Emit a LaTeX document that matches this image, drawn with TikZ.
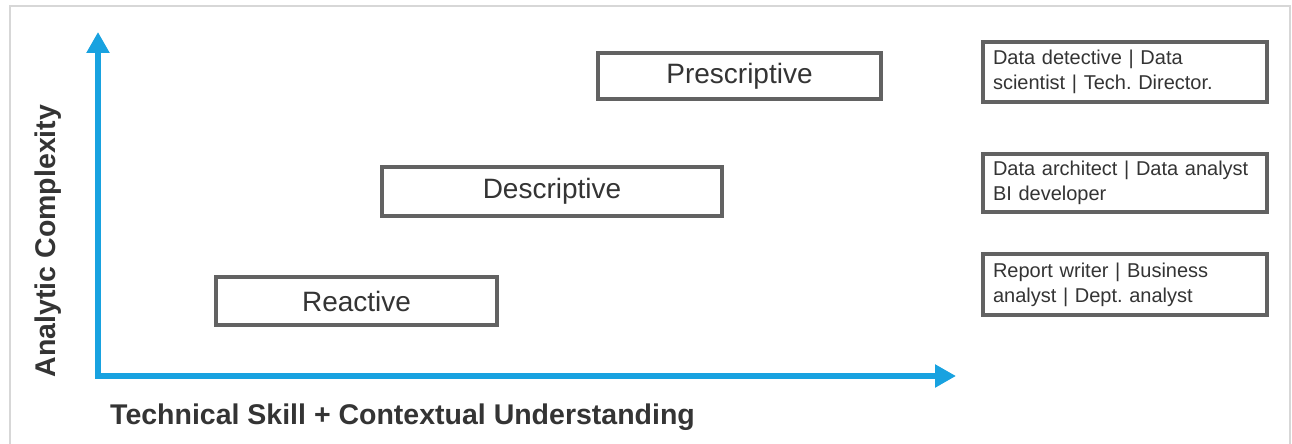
\documentclass[tikz,border=0pt]{standalone}
\usepackage{fontspec}
\setmainfont{Liberation Sans}
\usetikzlibrary{arrows.meta}
\frenchspacing
\definecolor{axisblue}{RGB}{24,162,224}
\definecolor{boxgray}{RGB}{98,98,98}
\definecolor{txtgray}{RGB}{52,52,52}
\definecolor{framegray}{RGB}{215,215,215}
\tikzset{
  levelbox/.style={draw=boxgray, line width=4pt, fill=white, minimum height=47pt,
    inner sep=0pt, text=txtgray, font=\fontsize{28}{32}\selectfont},
  rolebox/.style={draw=boxgray, line width=4pt, fill=white, minimum width=284pt,
    text width=264pt, inner xsep=10pt, inner ysep=0pt, align=left, text=txtgray,
    font=\fontsize{20}{25}\selectfont\frenchspacing},
  axislabel/.style={text=txtgray, inner sep=0pt, font=\fontsize{28.5}{32}\selectfont\bfseries},
  axisline/.style={draw=axisblue, line width=6pt, line join=miter,
    {Triangle[length=21pt,width=22pt]}-{Triangle[length=21pt,width=22pt]}}
}
\begin{document}
\begin{tikzpicture}[x=1pt,y=-1pt]
\useasboundingbox (0,0) rectangle (1292,444);
% outer frame
\draw[framegray, line width=1.5pt] (10,444) -- (10,6) -- (1290,6) -- (1290,444);
% axes
\coordinate (ytip) at (98,32);
\coordinate (origin) at (98,376);
\coordinate (xtip) at (956,376);
\draw[axisline] (ytip) -- (origin) -- (xtip);
% axis labels
\node[axislabel, rotate=90] (ylab) at (48,241) {Analytic Complexity};
\node[axislabel, anchor=base west] (xlab) at (110,424) {Technical Skill + Contextual Understanding};
% level boxes
\node[levelbox, minimum width=281pt, minimum height=48pt] (reactive) at (356.5,301) {Reactive};
\node[levelbox, minimum width=340pt, minimum height=49pt] (descriptive) at (552,191.5) {Descriptive};
\node[levelbox, minimum width=283pt, minimum height=46pt] (prescriptive) at (739.5,76) {Prescriptive};
% role boxes
\node[rolebox, minimum height=60pt] (role3) at (1125,72) {Data detective | Data\\scientist | Tech.\ Director.};
\node[rolebox, minimum height=58pt] (role2) at (1125,183) {Data architect | Data analyst\\BI developer};
\node[rolebox, minimum height=61pt] (role1) at (1125,284.5) {Report writer | Business\\analyst | Dept.\ analyst};
\end{tikzpicture}
\end{document}
